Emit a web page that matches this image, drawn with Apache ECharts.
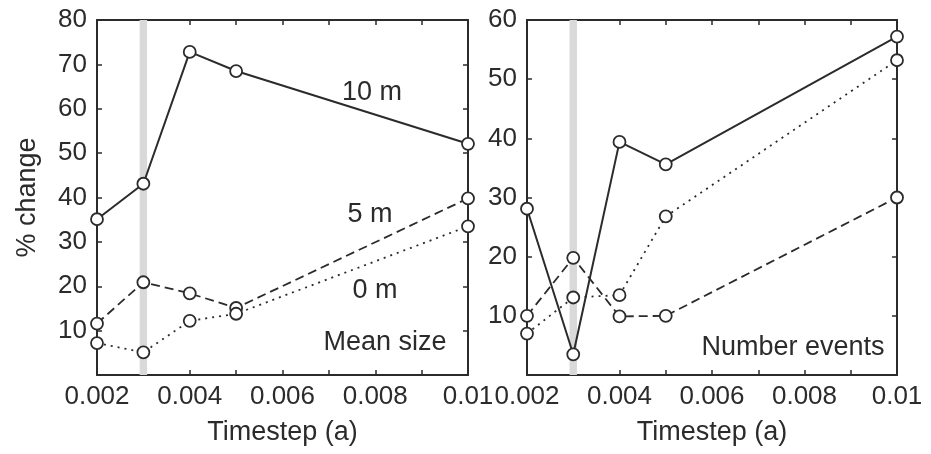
<!DOCTYPE html>
<html>
<head>
<meta charset="utf-8">
<script src="https://cdn.jsdelivr.net/npm/echarts@6/dist/echarts.min.js"></script>
<style>
	html, body { margin: 0; padding: 0; background: #fff; }
	#main { width: 931px; height: 454px; }
</style>
</head>
<body>
<div id="main"></div>
<script>
	/* data */
	var timesteps = [0.002, 0.003, 0.004, 0.005, 0.01];
	var sizeDepth10 = [35.1, 43.1, 72.8, 68.5, 52.1];
	var sizeDepth5 = [11.6, 20.9, 18.4, 15.1, 39.8];
	var sizeDepth0 = [7.2, 5.1, 12.2, 13.8, 33.5];
	var eventsDepth10 = [28.1, 3.5, 39.4, 35.6, 57.2];
	var eventsDepth5 = [10.0, 19.8, 9.9, 10.0, 30.0];
	var eventsDepth0 = [7.0, 13.1, 13.5, 26.8, 53.2];
	var highlightStep = 0.003;
	var xTicks = { min: 0.002, max: 0.01, interval: 0.001 };
	var sizeTicks = { min: 0, max: 80, interval: 10 };
	var eventsTicks = { min: 0, max: 60, interval: 10 };

	var ink = '#2b2b2b';
	var fontName = 'Liberation Sans';

	function pairs(ys) {
		var out = [];
		for (var i = 0; i < ys.length; i++) {
			out.push([timesteps[i], ys[i]]);
		}
		return out;
	}

	function xLabel(v) {
		var k = Math.round(v * 1000);
		return k % 2 === 0 ? String(+v.toFixed(3)) : '';
	}

	function makeX(grid, top) {
		return {
			type: 'value',
			gridIndex: grid,
			position: top ? 'top' : 'bottom',
			min: xTicks.min,
			max: xTicks.max,
			interval: xTicks.interval,
			name: top ? '' : 'Timestep (a)',
			nameLocation: 'middle',
			nameGap: 44,
			nameTextStyle: { fontFamily: fontName, fontSize: 27, color: ink },
			splitLine: { show: false },
			axisLine: { onZero: false, lineStyle: { color: ink, width: 2 } },
			axisTick: { inside: true, length: 5, lineStyle: { color: ink, width: 1.5 } },
			axisLabel: {
				show: !top,
				margin: 9,
				fontFamily: fontName,
				fontSize: 26,
				color: ink,
				formatter: xLabel
			}
		};
	}

	function makeY(grid, ticks, right, name) {
		return {
			type: 'value',
			gridIndex: grid,
			position: right ? 'right' : 'left',
			min: ticks.min,
			max: ticks.max,
			interval: ticks.interval,
			name: name || '',
			nameLocation: 'middle',
			nameGap: 56,
			nameTextStyle: { fontFamily: fontName, fontSize: 27, color: ink },
			splitLine: { show: false },
			axisLine: { show: true, onZero: false, lineStyle: { color: ink, width: 2 } },
			axisTick: { show: true, inside: true, length: 5, lineStyle: { color: ink, width: 1.5 } },
			axisLabel: {
				show: !right,
				showMinLabel: false,
				margin: 10,
				fontFamily: fontName,
				fontSize: 26,
				color: ink
			}
		};
	}

	function lineSeries(ys, axisIdx, dash) {
		return {
			type: 'line',
			xAxisIndex: axisIdx,
			yAxisIndex: axisIdx,
			data: pairs(ys),
			symbol: 'circle',
			symbolSize: 12,
			clip: false,
			z: 3,
			lineStyle: { color: ink, width: dash === 'solid' ? 2 : 1.8, type: dash },
			itemStyle: { color: '#fff', borderColor: ink, borderWidth: 1.8 },
			animation: false
		};
	}

	function bandSeries(axisIdx) {
		return {
			type: 'line',
			xAxisIndex: axisIdx,
			yAxisIndex: axisIdx,
			data: [],
			z: 1,
			silent: true,
			markArea: {
				silent: true,
				itemStyle: { color: '#d9d9d9' },
				data: [[{ xAxis: highlightStep - 0.00008 }, { xAxis: highlightStep + 0.00008 }]]
			},
			animation: false
		};
	}

	function note(text, x, y) {
		return {
			type: 'text',
			x: x,
			y: y,
			style: {
				text: text,
				fontFamily: fontName,
				fontSize: 27,
				fill: ink,
				align: 'center',
				verticalAlign: 'middle'
			}
		};
	}

	var option = {
		backgroundColor: '#ffffff',
		animation: false,
		grid: [
			{ left: 97, right: 463, top: 20, bottom: 79 },
			{ left: 527, right: 34, top: 20, bottom: 79 }
		],
		// axis index: 0,1 = bottom/left of each panel; 2,3 = top/right mirrors
		xAxis: [makeX(0, false), makeX(1, false), makeX(0, true), makeX(1, true)],
		yAxis: [
			makeY(0, sizeTicks, false, '% change'),
			makeY(1, eventsTicks, false),
			makeY(0, sizeTicks, true),
			makeY(1, eventsTicks, true)
		],
		series: [
			bandSeries(0),
			bandSeries(1),
			lineSeries(sizeDepth10, 0, 'solid'),
			lineSeries(sizeDepth5, 0, [9, 5]),
			lineSeries(sizeDepth0, 0, [2, 5]),
			lineSeries(eventsDepth10, 1, 'solid'),
			lineSeries(eventsDepth5, 1, [9, 5]),
			lineSeries(eventsDepth0, 1, [2, 5])
		],
		graphic: [
			note('10 m', 372, 93),
			note('5 m', 370, 215),
			note('0 m', 375, 291),
			note('Mean size', 385, 343),
			note('Number events', 793, 348)
		]
	};

	var chart = echarts.init(document.getElementById('main'));
	chart.setOption(option);
</script>
</body>
</html>
